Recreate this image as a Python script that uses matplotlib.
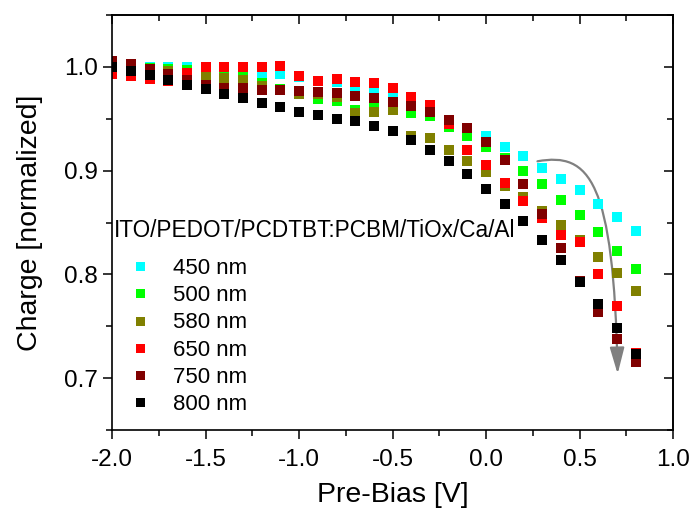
import numpy as np
import matplotlib
matplotlib.use('Agg')
import matplotlib.pyplot as plt
from matplotlib.path import Path
from matplotlib.patches import FancyArrowPatch
from matplotlib.ticker import MultipleLocator

plt.rcParams['font.family'] = ['Liberation Sans', 'DejaVu Sans']

# pre-bias voltage, -2.0 ... 0.8 V in 0.1 V steps
bias = np.round(np.arange(-2.0, 0.81, 0.1), 2)

wavelengths = ['450 nm', '500 nm', '580 nm', '650 nm', '750 nm', '800 nm']
colors = ['#00ffff', '#00ff00', '#808000', '#ff0000', '#800000', '#000000']

q_450 = [1.000, 1.000, 1.000, 1.000, 1.000, 0.999, 0.998, 0.997, 0.994, 0.993,
         0.990, 0.986, 0.985, 0.982, 0.979, 0.976, 0.966, 0.954, 0.948, 0.941,
         0.933, 0.923, 0.914, 0.903, 0.892, 0.881, 0.868, 0.855, 0.842]
q_500 = [1.000, 0.999, 0.999, 0.998, 0.997, 0.995, 0.993, 0.990, 0.984, 0.979,
         0.975, 0.969, 0.967, 0.958, 0.960, 0.959, 0.956, 0.953, 0.942, 0.933,
         0.923, 0.912, 0.900, 0.887, 0.872, 0.857, 0.841, 0.823, 0.805]
q_580 = [0.998, 0.997, 0.996, 0.996, 0.994, 0.991, 0.989, 0.987, 0.982, 0.978,
         0.974, 0.974, 0.971, 0.956, 0.957, 0.958, 0.933, 0.931, 0.920, 0.909,
         0.899, 0.885, 0.875, 0.861, 0.848, 0.833, 0.817, 0.801, 0.784]
q_650 = [0.993, 0.991, 0.988, 0.986, 0.994, 1.000, 1.000, 1.000, 1.000, 1.001,
         0.991, 0.986, 0.988, 0.985, 0.984, 0.980, 0.971, 0.963, 0.945, 0.920,
         0.905, 0.888, 0.871, 0.854, 0.838, 0.831, 0.800, 0.770, 0.724]
q_750 = [1.006, 1.003, 0.998, 0.993, 0.987, 0.983, 0.980, 0.980, 0.978, 0.978,
         0.977, 0.976, 0.975, 0.972, 0.970, 0.966, 0.962, 0.957, 0.949, 0.941,
         0.928, 0.910, 0.887, 0.858, 0.825, 0.794, 0.764, 0.738, 0.716]
q_800 = [1.000, 0.996, 0.992, 0.987, 0.983, 0.979, 0.974, 0.970, 0.965, 0.961,
         0.957, 0.954, 0.950, 0.948, 0.943, 0.938, 0.930, 0.920, 0.909, 0.897,
         0.882, 0.868, 0.851, 0.833, 0.814, 0.793, 0.771, 0.748, 0.723]
series = [q_450, q_500, q_580, q_650, q_750, q_800]

device = 'ITO/PEDOT/PCDTBT:PCBM/TiOx/Ca/Al'

# curved arrow (data coords): start, two bezier controls, tip
arrow_pts = [(0.275, 0.909), (0.554, 0.918), (0.682, 0.891), (0.704, 0.704)]

fig = plt.figure(figsize=(6.94, 5.11), dpi=100)
ax = fig.add_axes([0.1618, 0.1585, 0.8079, 0.8121])

for q, c, lab in zip(series, colors, wavelengths):
    ax.plot(bias, q, ls='none', marker='s', ms=7.2, mew=0, color=c, label=lab)

arrow = FancyArrowPatch(path=Path(arrow_pts, [Path.MOVETO, Path.CURVE4, Path.CURVE4, Path.CURVE4]),
                        arrowstyle='-|>,head_length=0.8,head_width=0.22',
                        mutation_scale=20, color='#808080', lw=1.6)
ax.add_patch(arrow)

ax.text(0.002, 0.48, device, transform=ax.transAxes, fontsize=16.3,
        ha='left', va='center')

ax.set_xlim(-2.0, 1.0)
ax.set_ylim(0.65, 1.05)
ax.xaxis.set_major_locator(MultipleLocator(0.5))
ax.xaxis.set_minor_locator(MultipleLocator(0.25))
ax.yaxis.set_major_locator(MultipleLocator(0.1))
ax.yaxis.set_minor_locator(MultipleLocator(0.05))
ax.xaxis.set_major_formatter(lambda v, p: f'{v:.1f}')
ax.yaxis.set_major_formatter(lambda v, p: f'{v:.1f}')

ax.tick_params(which='both', direction='out', top=False, right=False,
               labelsize=17.5, width=1.1, pad=4)
ax.tick_params(axis='x', which='major', pad=7)
ax.tick_params(which='major', length=6.5)
ax.tick_params(which='minor', length=4)
# inward ticks on top and right
sec_x = ax.secondary_xaxis('top')
sec_x.xaxis.set_major_locator(MultipleLocator(0.5))
sec_x.xaxis.set_minor_locator(MultipleLocator(0.25))
sec_x.tick_params(which='both', direction='in', labeltop=False, width=1.1)
sec_x.tick_params(which='major', length=6.5)
sec_x.tick_params(which='minor', length=4)
sec_y = ax.secondary_yaxis('right')
sec_y.yaxis.set_major_locator(MultipleLocator(0.1))
sec_y.yaxis.set_minor_locator(MultipleLocator(0.05))
sec_y.tick_params(which='both', direction='in', labelright=False, width=1.1)
sec_y.tick_params(which='major', length=6.5)
sec_y.tick_params(which='minor', length=4)
for s in ax.spines.values():
    s.set_linewidth(1.2)
sec_x.spines['top'].set_linewidth(1.2)
sec_y.spines['right'].set_linewidth(1.2)

ax.set_xlabel('Pre-Bias [V]', fontsize=20.5, labelpad=8)
ax.set_ylabel('Charge [normalized]', fontsize=20.5, labelpad=15)

ax.legend(loc='upper left', bbox_to_anchor=(0.002, 0.452), frameon=False,
          fontsize=16, handlelength=1.0, handletextpad=1.0,
          labelspacing=0.28, borderaxespad=0.3, markerscale=0.9)

fig.savefig('out.png', dpi=100)
